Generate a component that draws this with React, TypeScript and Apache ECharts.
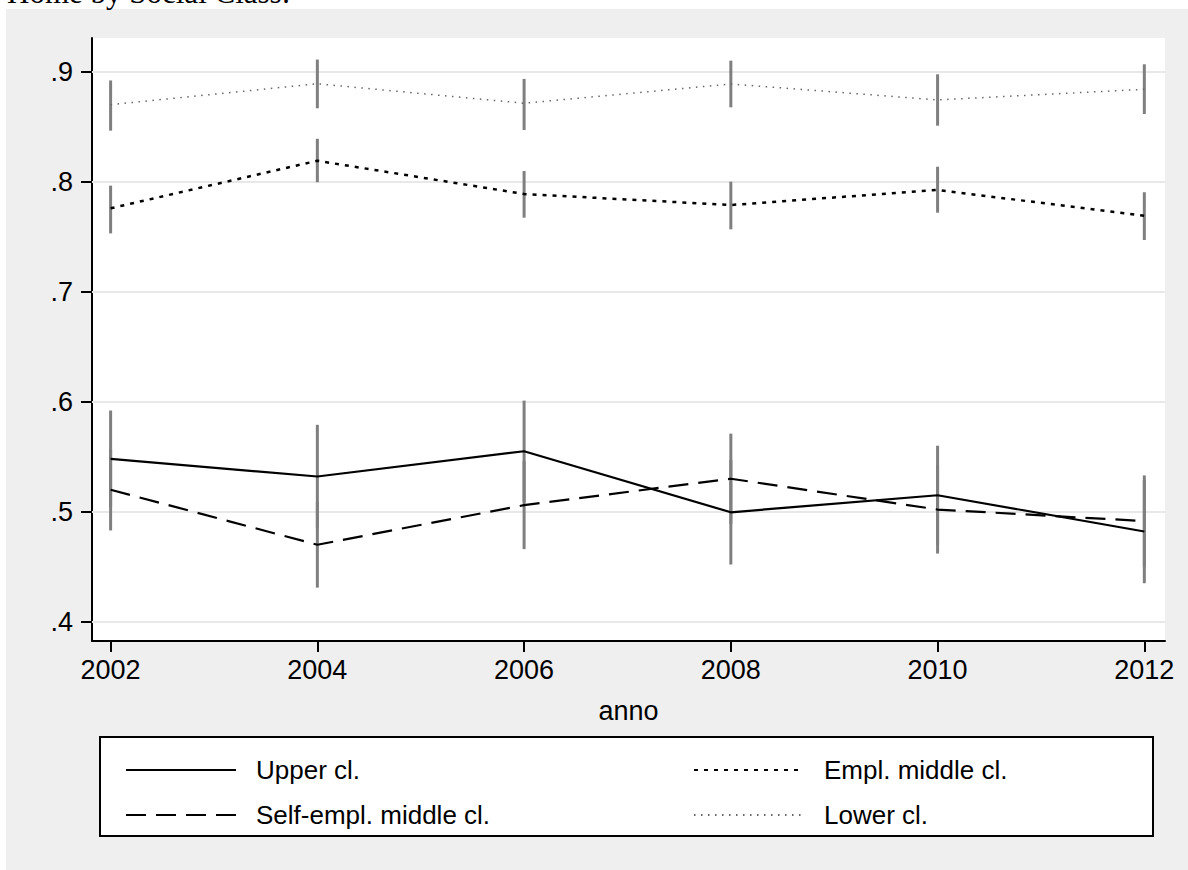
import React, { useEffect, useRef } from "react";
import * as echarts from "echarts";

const years = [2002, 2004, 2006, 2008, 2010, 2012];
const yTicks = [0.4, 0.5, 0.6, 0.7, 0.8, 0.9];

const upper = [0.548, 0.532, 0.555, 0.4995, 0.515, 0.482];
const upperLo = [0.504, 0.485, 0.509, 0.452, 0.47, 0.435];
const upperHi = [0.592, 0.579, 0.601, 0.547, 0.56, 0.529];

const selfEmpl = [0.52, 0.47, 0.506, 0.53, 0.502, 0.4915];
const selfEmplLo = [0.483, 0.431, 0.466, 0.489, 0.462, 0.45];
const selfEmplHi = [0.557, 0.509, 0.546, 0.571, 0.542, 0.533];

const emplMiddle = [0.7758, 0.819, 0.7888, 0.7788, 0.7925, 0.769];
const emplMiddleLo = [0.753, 0.7995, 0.7673, 0.7567, 0.7718, 0.747];
const emplMiddleHi = [0.7964, 0.839, 0.8097, 0.8, 0.8136, 0.7904];

const lower = [0.87, 0.889, 0.8713, 0.8888, 0.8743, 0.884];
const lowerLo = [0.8464, 0.8667, 0.847, 0.8676, 0.8509, 0.8615];
const lowerHi = [0.892, 0.911, 0.8934, 0.91, 0.8976, 0.9067];

const names = ["Upper cl.", "Self-empl. middle cl.", "Empl. middle cl.", "Lower cl."];

const FONT = "'Liberation Sans', Helvetica, Arial, sans-serif";

export default function App() {
  const ref = useRef<HTMLDivElement>(null);

  useEffect(() => {
    if (!ref.current) return;
    const chart = echarts.init(ref.current, null, { renderer: "svg" });

    const ciData = (lo: number[], hi: number[]) => years.map((y, i) => [y, lo[i], hi[i]]);
    const allCi = [
      ...ciData(upperLo, upperHi),
      ...ciData(selfEmplLo, selfEmplHi),
      ...ciData(emplMiddleLo, emplMiddleHi),
      ...ciData(lowerLo, lowerHi),
    ];
    const pts = (v: number[]) => years.map((y, i) => [y, v[i]]);

    const legendBase = {
      selectedMode: false,
      itemWidth: 110,
      itemHeight: 26,
      itemStyle: { opacity: 0 },
      textStyle: {
        fontSize: 26,
        lineHeight: 26,
        color: "#000",
        fontFamily: FONT,
        padding: [0, 0, 0, 15],
      },
    };

    chart.setOption({
      animation: false,
      backgroundColor: "#fff",
      textStyle: { fontFamily: FONT },
      graphic: [
        {
          type: "rect",
          z: -10,
          shape: { x: 6, y: 9, width: 1182, height: 861 },
          style: { fill: "#efefef" },
          silent: true,
        },
        {
          type: "text",
          z: -5,
          x: 7,
          y: -8,
          style: {
            text: "Home by Social Class:",
            fontSize: 31,
            fontFamily: "'Liberation Serif', 'Times New Roman', serif",
            fill: "#000",
            verticalAlign: "middle",
          },
          silent: true,
        },
        {
          type: "rect",
          z: -5,
          shape: { x: 100, y: 737, width: 1053, height: 99 },
          style: { fill: "#fff", stroke: "#000", lineWidth: 2 },
          silent: true,
        },
      ],
      grid: {
        left: 92,
        top: 38,
        right: 23,
        bottom: 229,
        show: true,
        backgroundColor: "#fff",
        borderWidth: 0,
      },
      legend: [
        { ...legendBase, data: [names[0]], left: 120, top: 752 },
        { ...legendBase, data: [names[1]], left: 120, top: 797 },
        { ...legendBase, data: [names[2]], left: 688, top: 752 },
        { ...legendBase, data: [names[3]], left: 688, top: 797 },
      ],
      xAxis: {
        type: "value",
        min: 2001.82,
        max: 2012.2,
        name: "anno",
        nameLocation: "middle",
        nameGap: 56,
        nameTextStyle: { fontSize: 27, color: "#000", fontFamily: FONT },
        axisLine: { show: true, lineStyle: { color: "#000", width: 2 } },
        axisTick: {
          show: true,
          length: 11,
          customValues: years,
          lineStyle: { color: "#000", width: 2 },
        },
        axisLabel: {
          customValues: years,
          fontSize: 27,
          color: "#000",
          margin: 15,
          fontFamily: FONT,
          formatter: (v: number) => String(Math.round(v)),
        },
        splitLine: { show: false },
      },
      yAxis: {
        type: "value",
        min: 0.3825,
        max: 0.9306,
        axisLine: { show: true, lineStyle: { color: "#000", width: 2 } },
        axisTick: {
          show: true,
          length: 11,
          customValues: yTicks,
          lineStyle: { color: "#000", width: 2 },
        },
        axisLabel: {
          customValues: yTicks,
          fontSize: 27,
          color: "#000",
          margin: 19,
          fontFamily: FONT,
          formatter: (v: number) => "." + Math.round(v * 10),
        },
        splitLine: { show: false },
      },
      series: [
        {
          type: "custom",
          name: "ci",
          z: 2,
          silent: true,
          data: allCi,
          encode: { x: 0, y: [1, 2] },
          renderItem: (_params: any, api: any) => {
            const x = api.value(0);
            const p1 = api.coord([x, api.value(1)]);
            const p2 = api.coord([x, api.value(2)]);
            return {
              type: "line",
              shape: { x1: p1[0], y1: p1[1], x2: p2[0], y2: p2[1] },
              style: { stroke: "#7f7f7f", lineWidth: 3 },
            };
          },
          markLine: {
            silent: true,
            z: 1,
            symbol: "none",
            label: { show: false },
            lineStyle: { color: "#e8e8e8", width: 2, type: "solid" },
            data: yTicks.map((v) => ({ yAxis: v })),
          },
        },
        {
          type: "line",
          name: names[0],
          z: 3,
          data: pts(upper),
          symbol: "none",
          showSymbol: false,
          lineStyle: { color: "#000", width: 2.2, type: "solid" },
          itemStyle: { color: "#000" },
        },
        {
          type: "line",
          name: names[1],
          z: 3,
          data: pts(selfEmpl),
          symbol: "none",
          showSymbol: false,
          lineStyle: { color: "#000", width: 2.2, type: [20, 10] },
          itemStyle: { color: "#000" },
        },
        {
          type: "line",
          name: names[2],
          z: 3,
          data: pts(emplMiddle),
          symbol: "none",
          showSymbol: false,
          lineStyle: { color: "#000", width: 2.5, type: [4, 6] },
          itemStyle: { color: "#000" },
        },
        {
          type: "line",
          name: names[3],
          z: 3,
          data: pts(lower),
          symbol: "none",
          showSymbol: false,
          lineStyle: { color: "#666", width: 1.5, type: [1.5, 5.5] },
          itemStyle: { color: "#666" },
        },
      ],
    });

    return () => chart.dispose();
  }, []);

  return (
    <div
      ref={ref}
      style={{ position: "absolute", left: 0, top: 0, width: 1188, height: 870 }}
    />
  );
}
